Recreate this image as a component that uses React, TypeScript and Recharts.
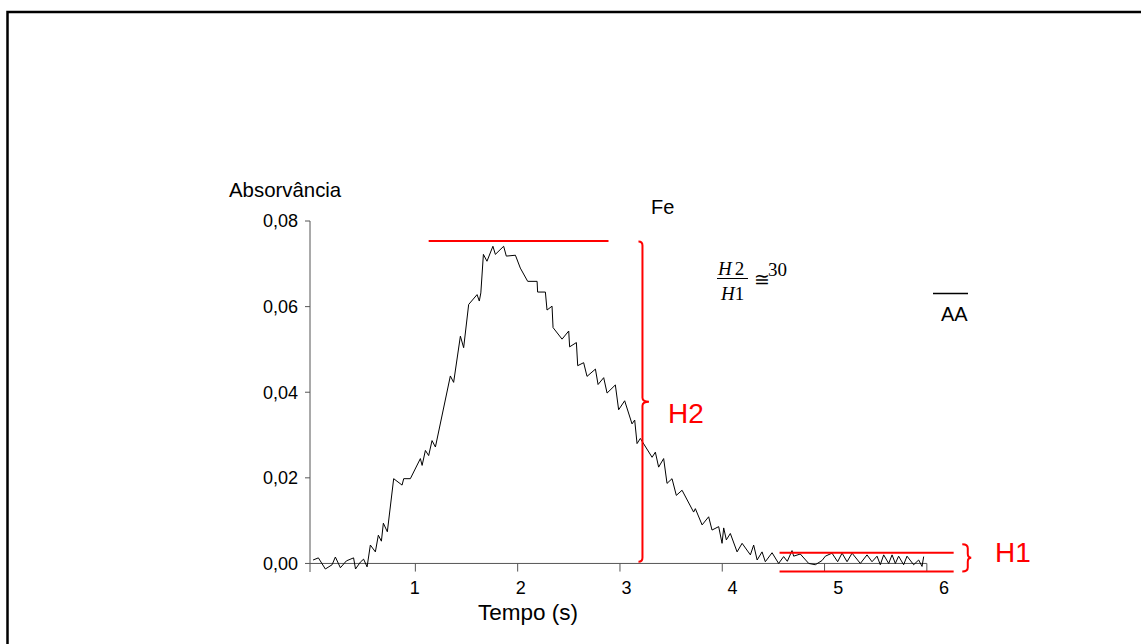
import { LineChart, Line, XAxis, YAxis, ReferenceLine } from "recharts";

// ─── Data ─────────────────────────────────────────────────────────────────────

const time = [
  0.0, 0.052, 0.12, 0.186, 0.218, 0.267, 0.326, 0.396, 0.415, 0.462,
  0.494, 0.528, 0.56, 0.609, 0.638, 0.668, 0.687, 0.726, 0.788, 0.87,
  0.886, 0.951, 1.049, 1.066, 1.098, 1.13, 1.163, 1.196, 1.342, 1.374,
  1.44, 1.472, 1.521, 1.603, 1.625, 1.64, 1.665, 1.7, 1.758, 1.782,
  1.863, 1.889, 1.978, 2.026, 2.098, 2.19, 2.195, 2.271, 2.287, 2.336,
  2.346, 2.434, 2.499, 2.508, 2.574, 2.587, 2.645, 2.678, 2.76, 2.786,
  2.841, 2.874, 2.955, 2.987, 3.046, 3.118, 3.144, 3.167, 3.199, 3.314,
  3.346, 3.378, 3.427, 3.46, 3.509, 3.551, 3.607, 3.72, 3.737, 3.803,
  3.867, 3.9, 3.965, 3.998, 4.014, 4.04, 4.079, 4.145, 4.194, 4.275,
  4.307, 4.341, 4.389, 4.421, 4.487, 4.551, 4.6, 4.636, 4.682, 4.698,
  4.763, 4.845, 4.91, 4.976, 5.008, 5.073, 5.128, 5.171, 5.22, 5.269,
  5.35, 5.415, 5.464, 5.513, 5.545, 5.578, 5.627, 5.66, 5.692, 5.724,
  5.773, 5.806, 5.871, 5.92, 5.953, 5.969,
];

const absorbance = [
  0.0008, 0.0013, -0.0013, -0.0003, 0.0015, -0.001, 0.0006, 0.0013, -0.0013, 0.0003,
  0.001, -0.0008, 0.0043, 0.0027, 0.0066, 0.0052, 0.0094, 0.0074, 0.0198, 0.0183,
  0.0198, 0.0198, 0.0245, 0.0229, 0.0264, 0.0252, 0.0287, 0.0272, 0.0438, 0.0423,
  0.0531, 0.0504, 0.0605, 0.0628, 0.0613, 0.0632, 0.0722, 0.0706, 0.0741, 0.0722,
  0.0741, 0.0718, 0.072, 0.069, 0.0659, 0.0659, 0.0634, 0.0634, 0.0592, 0.0601,
  0.0551, 0.0524, 0.0543, 0.0506, 0.0516, 0.0462, 0.0469, 0.0437, 0.0454, 0.0418,
  0.0434, 0.0398, 0.0417, 0.0359, 0.038, 0.0326, 0.0335, 0.028, 0.0292, 0.0248,
  0.026, 0.0225, 0.0245, 0.0187, 0.0198, 0.0159, 0.0171, 0.012, 0.0128, 0.009,
  0.0109, 0.0078, 0.0086, 0.0047, 0.0083, 0.0055, 0.007, 0.0027, 0.0047, 0.002,
  0.0043, 0.0008, 0.0027, 0.0004, 0.0025, 0.0, 0.0016, 0.0005, 0.003, 0.0017,
  0.0022, 0.0, -0.0003, 0.0007, 0.0017, 0.0024, 0.0004, 0.0024, 0.0004, 0.0024,
  0.0, 0.002, 0.0004, 0.0017, -0.0003, 0.002, 0.0, 0.002, 0.0, 0.0017,
  -0.0003, 0.0017, -0.0003, 0.0008, -0.0007, 0.0016,
];

const timeTicks = [1, 2, 3, 4, 5, 6];
const absTicks = [0, 0.02, 0.04, 0.06, 0.08];

// annotation levels (data units)
const peakLevel = 0.0753;
const peakSpan = [1.13, 2.888];
const h2At = 3.22;
const h2Range = [0.0004, 0.0752];
const noiseTop = 0.0025;
const noiseBottom = -0.0019;
const noiseSpan = [4.56, 6.262];
const h1At = 6.4;
const h1Range = [-0.0019, 0.0045];

const data = time.map((t, i) => ({ t, v: absorbance[i] }));

// ─── Styling ──────────────────────────────────────────────────────────────────

const RED = "#ff0000";
const AXIS = "#555";
const sans = "'Liberation Sans', Arial, sans-serif";
const serif = "'Liberation Serif', 'Times New Roman', serif";
const tickFont = { fontSize: 18, fill: "#000", fontFamily: sans };

// red curly brace drawn along a vertical reference segment
function brace(hook: number, tip: number) {
  return (p: any) => {
    const x = p.x1;
    const top = Math.min(p.y1, p.y2);
    const bot = Math.max(p.y1, p.y2);
    const mid = (top + bot) / 2;
    const r = Math.min(4, (bot - top) / 6);
    const d =
      `M${x - hook},${top} Q${x},${top} ${x},${top + r} L${x},${mid - r} ` +
      `Q${x},${mid} ${x + tip},${mid} Q${x},${mid} ${x},${mid + r} ` +
      `L${x},${bot - r} Q${x},${bot} ${x - hook},${bot}`;
    return <path d={d} fill="none" stroke={RED} strokeWidth={2} />;
  };
}

// short tick marks on the zero line: drawn as tiny vertical reference segments
const tickMark = (v: number) => (
  <ReferenceLine
    key={`tk${v}`}
    xAxisId="t"
    segment={[{ x: v, y: 0 }, { x: v, y: -0.0019 }]}
    stroke={AXIS}
    strokeWidth={1}
    ifOverflow="visible"
  />
);

// ─── Chart ────────────────────────────────────────────────────────────────────

export default function App() {
  return (
    <div style={{ position: "absolute", left: 0, top: 0, width: 1141, height: 644, background: "#fff" }}>
      <LineChart
        width={1141}
        height={644}
        data={data}
        margin={{ top: 221, right: 163, bottom: 42, left: 250 }}
      >
        <XAxis
          xAxisId="t"
          dataKey="t"
          type="number"
          domain={[-0.03, 6.5]}
          allowDataOverflow
          ticks={timeTicks}
          tick={false}
          axisLine={false}
          tickLine={false}
          height={0}
        />
        <XAxis
          xAxisId="lbl"
          dataKey="t"
          type="number"
          domain={[0.0095, 6.32]}
          allowDataOverflow
          ticks={timeTicks}
          interval={0}
          tick={tickFont}
          axisLine={false}
          tickLine={false}
          tickSize={0}
          tickMargin={9}
          height={30}
        />
        <YAxis
          type="number"
          domain={[-0.002, 0.08]}
          ticks={absTicks}
          interval={0}
          tick={tickFont}
          tickFormatter={(v: number) => v.toFixed(2).replace(".", ",")}
          axisLine={{ stroke: AXIS }}
          tickLine={{ stroke: AXIS }}
          tickSize={5}
          tickMargin={7}
          width={60}
        />

        {/* x axis line at zero, with its tick marks */}
        <ReferenceLine
          xAxisId="t"
          segment={[{ x: -0.03, y: 0 }, { x: 6.0, y: 0 }]}
          stroke={AXIS}
          strokeWidth={1}
        />
        {timeTicks.map(tickMark)}

        <Line
          xAxisId="t"
          type="linear"
          dataKey="v"
          stroke="#000"
          strokeWidth={1}
          dot={false}
          isAnimationActive={false}
        />

        {/* H2 annotation */}
        <ReferenceLine
          xAxisId="t"
          segment={[{ x: peakSpan[0], y: peakLevel }, { x: peakSpan[1], y: peakLevel }]}
          stroke={RED}
          strokeWidth={2}
          ifOverflow="visible"
        />
        <ReferenceLine
          xAxisId="t"
          segment={[{ x: h2At, y: h2Range[1] }, { x: h2At, y: h2Range[0] }]}
          shape={brace(4, 6.5)}
          ifOverflow="visible"
        />

        {/* H1 annotation */}
        <ReferenceLine
          xAxisId="t"
          segment={[{ x: noiseSpan[0], y: noiseTop }, { x: noiseSpan[1], y: noiseTop }]}
          stroke={RED}
          strokeWidth={2}
          ifOverflow="visible"
        />
        <ReferenceLine
          xAxisId="t"
          segment={[{ x: noiseSpan[0], y: noiseBottom }, { x: noiseSpan[1], y: noiseBottom }]}
          stroke={RED}
          strokeWidth={2}
          ifOverflow="visible"
        />
        <ReferenceLine
          xAxisId="t"
          segment={[{ x: h1At, y: h1Range[1] }, { x: h1At, y: h1Range[0] }]}
          shape={brace(5.5, 3.5)}
          ifOverflow="visible"
        />
      </LineChart>

      {/* labels and frame */}
      <svg
        width={1141}
        height={644}
        style={{ position: "absolute", left: 0, top: 0, pointerEvents: "none" }}
      >
        <rect x={7.5} y={12} width={2000} height={2000} fill="none" stroke="#000" strokeWidth={2.5} />

        <text x={229} y={197} fontFamily={sans} fontSize={20.4}>Absorvância</text>
        <text x={478} y={620} fontFamily={sans} fontSize={22.5}>Tempo (s)</text>
        <text x={651} y={214} fontFamily={sans} fontSize={20}>Fe</text>

        <line x1={933} y1={293.5} x2={968} y2={293.5} stroke="#000" strokeWidth={1.5} />
        <text x={941} y={321} fontFamily={sans} fontSize={20}>AA</text>

        <text x={668} y={423} fontFamily={sans} fontSize={28} fill={RED}>H2</text>
        <text x={995} y={562} fontFamily={sans} fontSize={28} fill={RED}>H1</text>

        <g fontFamily={serif} fontSize={19}>
          <text x={718} y={275}>
            <tspan fontStyle="italic">H</tspan>
            <tspan dx={3}>2</tspan>
          </text>
          <line x1={717} y1={278.5} x2={748} y2={278.5} stroke="#000" strokeWidth={1} />
          <text x={721} y={300}>
            <tspan fontStyle="italic">H</tspan>
            <tspan>1</tspan>
          </text>
          <text x={754} y={286}>≅</text>
          <text x={768} y={276}>30</text>
        </g>
      </svg>
    </div>
  );
}
